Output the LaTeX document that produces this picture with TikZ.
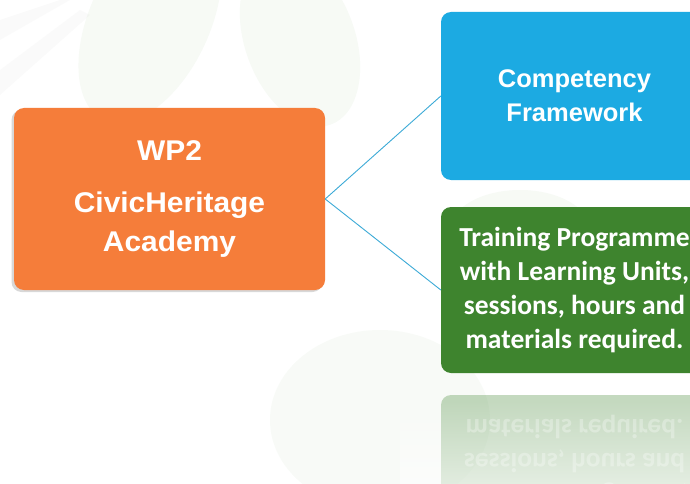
\documentclass[tikz,border=0pt]{standalone}
\usepackage{fontspec}
\setmainfont{Carlito}
\newfontfamily\headfont{Liberation Sans}[FakeStretch=1.05]
\newfontfamily\headfontb{Liberation Sans}
\newfontfamily\bodyfont{Carlito}
\usetikzlibrary{shadows,fadings}
\definecolor{orangebox}{RGB}{245,125,58}
\definecolor{bluebox}{RGB}{28,170,226}
\definecolor{greenbox}{RGB}{62,132,46}
\definecolor{linkblue}{RGB}{60,170,215}
\definecolor{leaf}{RGB}{120,175,100}
\begin{document}
\begin{tikzpicture}[x=1pt,y=-1pt,
  box/.style={rounded corners=10pt, inner sep=0pt, align=center, text=white},
  orangetext/.style={font=\headfont\bfseries\fontsize{28.5}{39}\selectfont},
  bluetext/.style={font=\headfontb\bfseries\fontsize{25.5}{34}\selectfont},
  bodytext/.style={font=\bodyfont\bfseries\fontsize{27.5}{34}\selectfont},
  link/.style={draw=linkblue, line width=0.9pt},
  leafshape/.style={fill=leaf, opacity=0.06}]
\useasboundingbox (0,0) rectangle (690,484);
\fill[white] (0,0) rectangle (690,484);
% faint background leaves
\fill[leafshape] (150,20) ellipse [x radius=60, y radius=110, rotate=-25];
\fill[leafshape] (300,40) ellipse [x radius=55, y radius=90, rotate=20];
\fill[leafshape] (520,230) ellipse [x radius=70, y radius=40];
\fill[leafshape, opacity=0.05] (380,420) ellipse [x radius=110, y radius=90];
\fill[gray, opacity=0.035] (0,20) -- (60,0) -- (70,0) -- (0,40) -- cycle;
\fill[gray, opacity=0.035] (0,70) -- (80,10) -- (90,15) -- (0,95) -- cycle;
% reflection of green box
\begin{scope}[cm={1,0,0,-1,(0pt,-768pt)}, transform shape, opacity=0.3]
  \node[box, fill=greenbox, minimum width=267pt, minimum height=166pt, bodytext] (greenrefl) at (574.5,290)
    {Training Programme\\with Learning Units,\\sessions, hours and\\materials required.};
\end{scope}
\fill[white, opacity=0.55, path fading=north] (400,400) rectangle (690,485);
% boxes
\node[box, fill=orangebox, minimum width=311pt, minimum height=182pt, orangetext,
      drop shadow={shadow xshift=-2.5pt, shadow yshift=-2pt, opacity=0.3}] (wp2) at (169.5,199)
  {WP2\\[13pt]CivicHeritage\\Academy};
\node[box, fill=bluebox, minimum width=267pt, minimum height=168pt, bluetext] (comp) at (574.5,96)
  {Competency\\Framework};
\node[box, fill=greenbox, minimum width=267pt, minimum height=166pt, bodytext] (train) at (574.5,290)
  {Training Programme\\with Learning Units,\\sessions, hours and\\materials required.};
% connectors
\draw[link] (wp2.east) -- (comp.west);
\draw[link] (wp2.east) -- (train.west);
\end{tikzpicture}
\end{document}
